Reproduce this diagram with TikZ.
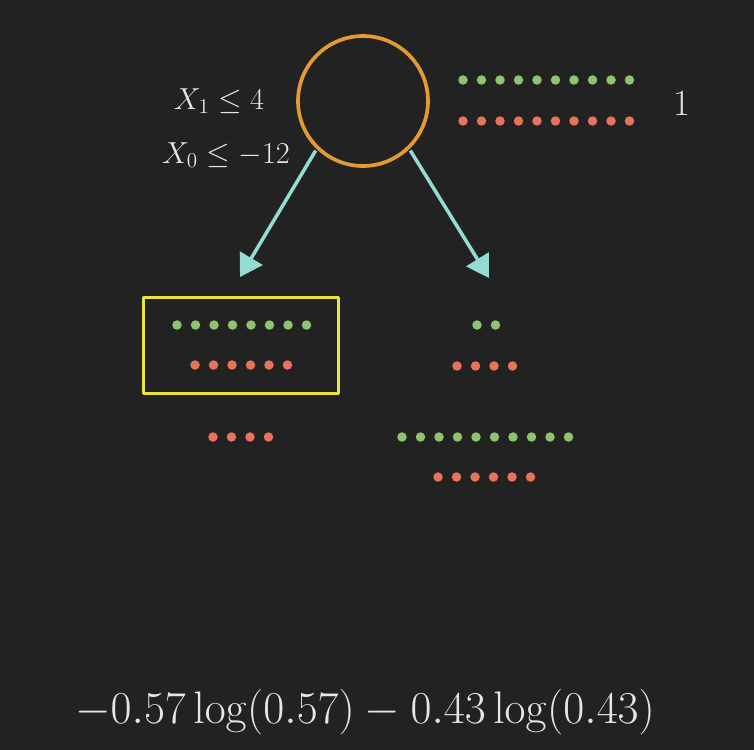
\documentclass[tikz,border=0pt]{standalone}
\usetikzlibrary{arrows.meta}
\definecolor{bgcol}{HTML}{222222}
\definecolor{nodeorange}{HTML}{E39A32}
\definecolor{boxyellow}{HTML}{E8E43C}
\definecolor{arrowcyan}{HTML}{93DCD4}
\definecolor{dotgreen}{HTML}{8EC46E}
\definecolor{dotred}{HTML}{E8725A}
\definecolor{txtcol}{HTML}{E6E6E6}
\begin{document}
\begin{tikzpicture}[x=0.02cm,y=-0.02cm,line join=round,
		split/.style={-{Triangle[length=0.44cm,width=0.52cm]},arrowcyan,line width=2pt,shorten <=1pt},
		cond/.style={text=txtcol,font=\fontsize{18.5}{21}\selectfont},
		]
		\useasboundingbox[fill=bgcol] (0,0) rectangle (754,750);
		% tree node and selected leaf
		\node[circle,draw=nodeorange,line width=2.1pt,minimum size=2.6cm,inner sep=0pt] (root) at (363,101) {};
		\node[draw=boxyellow,line width=2.1pt,minimum width=3.9cm,minimum height=1.92cm,inner sep=0pt] (leafbox) at (241,345.5) {};
		% split conditions
		\node[cond] (cond1) at (219,101) {$X_1 \leq 4$};
		\node[cond] (cond0) at (226,155) {$X_0 \leq -12$};
		\node[text=txtcol,font=\fontsize{21}{24}\selectfont] (impurity) at (682,103) {1};
		% branches
		\coordinate (lefttip) at (240,277);
		\coordinate (righttip) at (489,278);
		\draw[split] (root.226) -- (lefttip);
		\draw[split] (root.-46) -- (righttip);
		% class samples
		\foreach \xa/\ya/\n/\c in {463/80/10/dotgreen,463/121/10/dotred,
				177/325/8/dotgreen,195/365/6/dotred,213/437/4/dotred,
				477/325/2/dotgreen,457/366/4/dotred,402/437/10/dotgreen,438/477/6/dotred}
		\foreach \i in {1,...,\n}
		\fill[\c] ({\xa+18.5*(\i-1)},\ya) circle[radius=0.095cm];
		% entropy
		\node[text=txtcol,font=\fontsize{24.88}{30}\selectfont] (entropy) at (365,712) {\scalebox{1.044}{$-0.57\log(0.57)-0.43\log(0.43)$}};
\end{tikzpicture}
\end{document}
